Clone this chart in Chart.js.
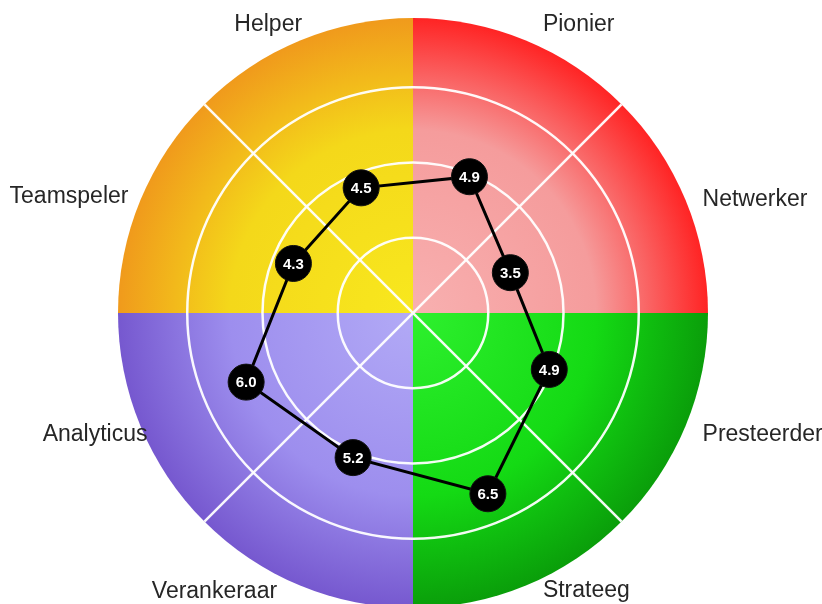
<!DOCTYPE html>
<html>
<head>
<meta charset="utf-8">
<title>Profiel</title>
<script src="https://cdn.jsdelivr.net/npm/chart.js@4"></script>
<style>
    html, body { margin: 0; padding: 0; background: #fff; overflow: hidden; }
    #wrap { width: 822px; height: 626px; }
</style>
</head>
<body>
<div id="wrap"><canvas id="profileChart"></canvas></div>
<script>
// Chart data
const roles = ['Pionier', 'Netwerker', 'Presteerder', 'Strateeg', 'Verankeraar', 'Analyticus', 'Teamspeler', 'Helper'];
const scores = [4.9, 3.5, 4.9, 6.5, 5.2, 6.0, 4.3, 4.5];
const scaleMax = 9.8;
const ringStep = 2.5;

// Quadrant colours (centre -> edge), clockwise from top-right
const quadrants = [
    ['#f8b0b0', '#f59c9c', '#ff2424'],
    ['#2ef02e', '#14da14', '#0a9e0a'],
    ['#b2aaf6', '#9d8eee', '#7658cf'],
    ['#f8e81e', '#f4d81a', '#f09a1c']
];

// Nudges for the outer labels [dx, dy], per role
const labelNudge = [[17, -9], [17, 6], [17, 15], [17, 11], [-23, 12], [7, 15], [-12, 3], [2, -9]];

// Coloured background, drawn under the grid
const backgroundPlugin = {
    id: 'quadrantBackground',
    beforeDraw(chart) {
        const scale = chart.scales.r;
        const ctx = chart.ctx;
        const cx = scale.xCenter, cy = scale.yCenter, R = scale.drawingArea;
        ctx.save();
        quadrants.forEach((cols, q) => {
            const g = ctx.createRadialGradient(cx, cy, 0, cx, cy, R);
            g.addColorStop(0, cols[0]);
            g.addColorStop(0.62, cols[1]);
            g.addColorStop(1, cols[2]);
            ctx.beginPath();
            ctx.moveTo(cx, cy);
            ctx.arc(cx, cy, R, -Math.PI / 2 + q * Math.PI / 2, q * Math.PI / 2);
            ctx.closePath();
            ctx.fillStyle = g;
            ctx.fill();
        });
        ctx.restore();
    },
    beforeDatasetsDraw(chart) {
        // white diagonals between the quadrants
        const scale = chart.scales.r;
        const ctx = chart.ctx;
        const cx = scale.xCenter, cy = scale.yCenter, R = scale.drawingArea;
        ctx.save();
        ctx.strokeStyle = 'rgba(255,255,255,0.95)';
        ctx.lineWidth = 2.5;
        [Math.PI / 4, 3 * Math.PI / 4].forEach(a => {
            ctx.beginPath();
            ctx.moveTo(cx - R * Math.cos(a), cy - R * Math.sin(a));
            ctx.lineTo(cx + R * Math.cos(a), cy + R * Math.sin(a));
            ctx.stroke();
        });
        ctx.restore();
    }
};

// Values inside the points and the role names around the circle
const labelsPlugin = {
    id: 'valueLabels',
    afterDraw(chart) {
        const ctx = chart.ctx;
        const scale = chart.scales.r;
        const meta = chart.getDatasetMeta(0);
        ctx.save();
        ctx.fillStyle = '#fff';
        ctx.font = 'bold 15px "Liberation Sans", Arial, sans-serif';
        ctx.textAlign = 'center';
        ctx.textBaseline = 'middle';
        meta.data.forEach((pt, i) => {
            ctx.fillText(scores[i].toFixed(1), pt.x, pt.y + 1);
        });

        ctx.fillStyle = '#262626';
        ctx.font = '23px "Liberation Sans", Arial, sans-serif';
        ctx.textBaseline = 'alphabetic';
        roles.forEach((name, i) => {
            const p = scale.getPointPosition(i, scale.drawingArea);
            ctx.textAlign = p.x > scale.xCenter ? 'left' : 'right';
            ctx.fillText(name, p.x + labelNudge[i][0], p.y + labelNudge[i][1]);
        });
        ctx.restore();
    }
};

const ctx = document.getElementById('profileChart').getContext('2d');
const profileChart = new Chart(ctx, {
    type: 'radar',
    data: {
        labels: roles,
        datasets: [{
            data: scores,
            borderColor: '#000',
            borderWidth: 3,
            backgroundColor: 'rgba(0,0,0,0)',
            fill: false,
            pointRadius: 18,
            pointHoverRadius: 18,
            pointBackgroundColor: '#000',
            pointBorderColor: '#111',
            pointBorderWidth: 1
        }]
    },
    options: {
        responsive: true,
        maintainAspectRatio: false,
        animation: false,
        layout: { padding: { top: 18, bottom: 18, left: 4, right: 0 } },
        plugins: {
            legend: { display: false },
            tooltip: { enabled: false }
        },
        scales: {
            r: {
                min: 0,
                max: scaleMax,
                startAngle: 22.5,
                ticks: { display: false, stepSize: ringStep },
                angleLines: { display: false },
                grid: {
                    circular: true,
                    color: ctx => ctx.tick && ctx.tick.value >= scaleMax ? 'rgba(0,0,0,0)' : 'rgba(255,255,255,0.95)',
                    lineWidth: 2.5
                },
                pointLabels: { display: false }
            }
        }
    },
    plugins: [backgroundPlugin, labelsPlugin]
});
</script>
</body>
</html>
